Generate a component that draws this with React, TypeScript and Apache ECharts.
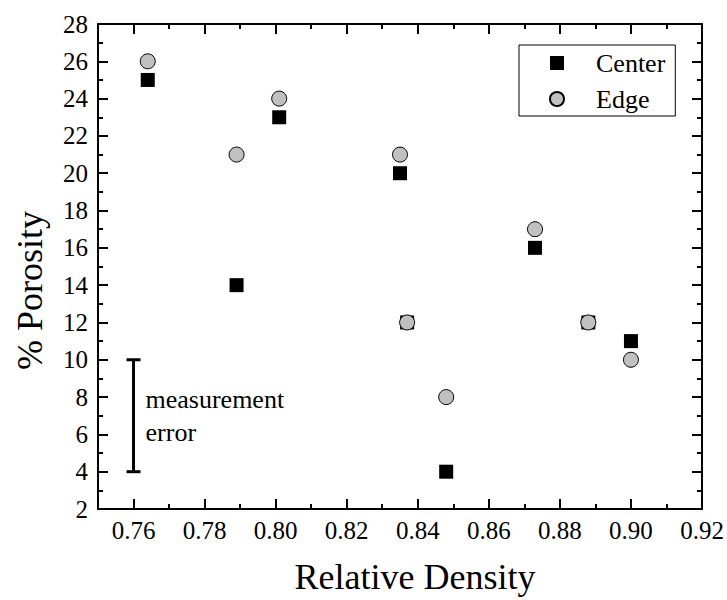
import React, { useEffect, useRef } from "react";
import * as echarts from "echarts";

const centerX = [0.764, 0.789, 0.801, 0.835, 0.837, 0.848, 0.873, 0.888, 0.9];
const centerY = [25, 14, 23, 20, 12, 4, 16, 12, 11];
const edgeX = [0.764, 0.789, 0.801, 0.835, 0.837, 0.848, 0.873, 0.888, 0.9];
const edgeY = [26, 21, 24, 21, 12, 8, 17, 12, 10];
const xMajorTicks = [0.76, 0.78, 0.8, 0.82, 0.84, 0.86, 0.88, 0.9, 0.92];
const xMinorTicks = [0.77, 0.79, 0.81, 0.83, 0.85, 0.87, 0.89, 0.91];
const yTicks = [2, 4, 6, 8, 10, 12, 14, 16, 18, 20, 22, 24, 26, 28];
const xMin = 0.75;
const xMax = 0.92;
const yMin = 2;
const yMax = 28;
const errorBar = [0.76, 4, 10]; // x, low, high
const errorLabel = ["measurement", "error"];
const seriesNames = ["Center", "Edge"];

const FONT = "Liberation Serif";

export default function App() {
  const ref = useRef<HTMLDivElement>(null);
  useEffect(() => {
    if (!ref.current) return;
    const chart = echarts.init(ref.current, null, { renderer: "svg" });
    const axisLine = { show: true, onZero: false, lineStyle: { color: "#000", width: 2 } };
    const tickStyle = { color: "#000", width: 2 };
    const tickText = (t: string, align: string) => ({
      text: t,
      fill: "#000",
      fontFamily: FONT,
      fontSize: 25,
      align,
      verticalAlign: "middle",
    });
    const xBase = (pos: string) => ({
      type: "value",
      min: xMin,
      max: xMax,
      position: pos,
      splitLine: { show: false },
      axisLabel: { show: false },
    });
    const option: any = {
      animation: false,
      textStyle: { fontFamily: FONT, color: "#000" },
      grid: { left: 98, right: 25, top: 24, bottom: 88 },
      legend: {
        data: [
          { name: seriesNames[0], icon: "path://M0,0L10,0L10,10L0,10Z" },
          { name: seriesNames[1] },
        ],
        orient: "vertical",
        left: 519,
        top: 45,
        itemWidth: 68,
        itemHeight: 14,
        itemGap: 10,
        symbolKeepAspect: true,
        padding: [5, 10, 4, 30],
        borderColor: "#000",
        borderWidth: 1,
        textStyle: { fontFamily: FONT, fontSize: 26, lineHeight: 26, color: "#000" },
      },
      xAxis: [
        {
          ...xBase("bottom"),
          axisLine,
          axisTick: { show: true, inside: true, length: 10, lineStyle: tickStyle, customValues: xMajorTicks },
          name: "Relative Density",
          nameLocation: "middle",
          nameGap: 50,
          nameTextStyle: { fontFamily: FONT, fontSize: 36, color: "#000", padding: [0, 0, 0, 30] },
        },
        {
          ...xBase("bottom"),
          axisLine: { show: false },
          axisTick: { show: true, inside: true, length: 5, lineStyle: tickStyle, customValues: xMinorTicks },
        },
        {
          ...xBase("top"),
          axisLine,
          axisTick: { show: true, inside: true, length: 10, lineStyle: tickStyle, customValues: xMajorTicks },
        },
        {
          ...xBase("top"),
          axisLine: { show: false },
          axisTick: { show: true, inside: true, length: 5, lineStyle: tickStyle, customValues: xMinorTicks },
        },
      ],
      yAxis: [
        {
          type: "value",
          min: yMin,
          max: yMax,
          interval: 2,
          position: "left",
          axisLine,
          axisTick: { show: true, inside: true, length: 10, lineStyle: tickStyle },
          minorTick: { show: true, splitNumber: 2, length: 5, lineStyle: tickStyle },
          axisLabel: { show: false },
          splitLine: { show: false },
          name: "% Porosity",
          nameLocation: "middle",
          nameGap: 50,
          nameTextStyle: { fontFamily: FONT, fontSize: 36, color: "#000", padding: [0, 48, 0, 0] },
        },
        {
          type: "value",
          min: yMin,
          max: yMax,
          interval: 2,
          position: "right",
          axisLine,
          axisTick: { show: true, inside: true, length: 10, lineStyle: tickStyle },
          minorTick: { show: true, splitNumber: 2, length: 5, lineStyle: tickStyle },
          axisLabel: { show: false },
          splitLine: { show: false },
        },
      ],
      series: [
        {
          name: seriesNames[0],
          type: "scatter",
          symbol: "rect",
          symbolSize: 14,
          itemStyle: { color: "#000", opacity: 1 },
          data: centerX.map((x, i) => [x, centerY[i]]),
        },
        {
          name: seriesNames[1],
          type: "scatter",
          symbol: "circle",
          symbolSize: 15,
          itemStyle: { color: "#c0c0c0", borderColor: "#000", borderWidth: 1, opacity: 1 },
          data: edgeX.map((x, i) => [x, edgeY[i]]),
        },
        {
          name: "error",
          type: "custom",
          encode: { x: 0, y: [1, 2] },
          data: [errorBar],
          silent: true,
          renderItem: (params: any, api: any) => {
            const hi = api.coord([api.value(0), api.value(2)]);
            const lo = api.coord([api.value(0), api.value(1)]);
            const cap = 7;
            const midY = (hi[1] + lo[1]) / 2;
            const ls = { stroke: "#000", lineWidth: 3 };
            const ts = (t: string) => ({
              text: t,
              fill: "#000",
              fontFamily: FONT,
              fontSize: 26,
              verticalAlign: "middle",
              align: "left",
            });
            return {
              type: "group",
              children: [
                { type: "line", shape: { x1: hi[0], y1: hi[1], x2: lo[0], y2: lo[1] }, style: ls },
                { type: "line", shape: { x1: hi[0] - cap, y1: hi[1], x2: hi[0] + cap, y2: hi[1] }, style: ls },
                { type: "line", shape: { x1: lo[0] - cap, y1: lo[1], x2: lo[0] + cap, y2: lo[1] }, style: ls },
                { type: "text", x: hi[0] + 12, y: midY - 16, style: ts(errorLabel[0]) },
                { type: "text", x: hi[0] + 12, y: midY + 17, style: ts(errorLabel[1]) },
              ],
            };
          },
        },
        {
          name: "xTickLabels",
          type: "custom",
          clip: false,
          silent: true,
          encode: { x: 0, y: 1 },
          data: xMajorTicks.map((v) => [v, yMin]),
          renderItem: (params: any, api: any) => {
            const c = api.coord([api.value(0), api.value(1)]);
            return {
              type: "text",
              x: c[0],
              y: c[1] + 21,
              style: tickText(Number(api.value(0)).toFixed(2), "center"),
            };
          },
        },
        {
          name: "yTickLabels",
          type: "custom",
          clip: false,
          silent: true,
          encode: { x: 0, y: 1 },
          data: yTicks.map((v) => [xMin, v]),
          renderItem: (params: any, api: any) => {
            const c = api.coord([api.value(0), api.value(1)]);
            return {
              type: "text",
              x: c[0] - 10,
              y: c[1],
              style: tickText(String(api.value(1)), "right"),
            };
          },
        },
      ],
    };
    chart.setOption(option);
    return () => chart.dispose();
  }, []);
  return (
    <div
      ref={ref}
      style={{ position: "absolute", left: 0, top: 0, width: 727, height: 600, background: "#fff" }}
    />
  );
}
